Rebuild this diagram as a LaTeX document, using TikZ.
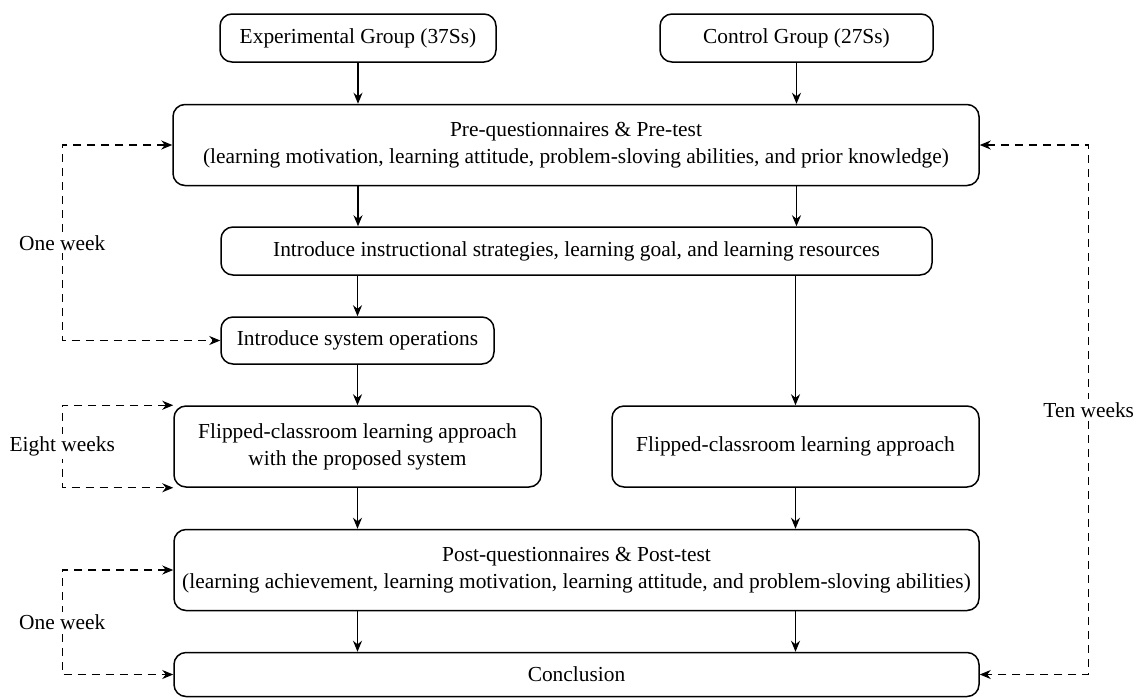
\documentclass[tikz,border=0pt]{standalone}
\usepackage{fontspec}
\setmainfont{Liberation Serif}
\usetikzlibrary{arrows.meta}

\begin{document}
\begin{tikzpicture}[x=0.5pt,y=-0.5pt,>={Stealth[length=5.5pt,width=4.5pt]},box/.style={draw, line width=0.75pt, rounded corners=6pt, align=center, inner sep=0pt, font=\fontsize{10.7}{13.5}\selectfont},flow/.style={->, line width=0.6pt},week/.style={<->, line width=0.55pt, dash pattern=on 4pt off 3pt},gap/.style={fill=white, inner sep=1.5pt, font=\fontsize{10.7}{13.5}\selectfont}]
\useasboundingbox (0,0) rectangle (1134,697);
\node[box, minimum width=138pt, minimum height=24pt] (expgrp) at (358,38) {Experimental Group (37Ss)};
\node[box, minimum width=136.5pt, minimum height=24pt] (ctrlgrp) at (796.5,38) {Control Group (27Ss)};
\node[box, minimum width=403pt, minimum height=40.5pt] (pretest) at (576,145) {Pre-questionnaires \& Pre-test\\(learning motivation, learning attitude, problem-sloving abilities, and prior knowledge)};
\node[box, minimum width=355.5pt, minimum height=24pt] (intro) at (576.5,251) {Introduce instructional strategies, learning goal, and learning resources};
\node[box, minimum width=136.5pt, minimum height=23.5pt] (sysop) at (357.5,340.5) {Introduce system operations};
\node[box, minimum width=183.5pt, minimum height=40.5pt] (flipexp) at (357.5,446.5) {Flipped-classroom learning approach\\with the proposed system};
\node[box, minimum width=183.5pt, minimum height=40.5pt] (flipctrl) at (795.5,446.5) {Flipped-classroom learning approach};
\node[box, minimum width=402.5pt, minimum height=40.5pt] (posttest) at (576.5,570) {Post-questionnaires \& Post-test\\(learning achievement, learning motivation, learning attitude, and problem-sloving abilities)};
\node[box, minimum width=402.5pt, minimum height=22pt] (concl) at (576.5,674.5) {Conclusion};
\draw[flow] (expgrp) -- (expgrp |- pretest.north); \draw[flow] (ctrlgrp) -- (ctrlgrp |- pretest.north);
\draw[flow] (pretest.south -| expgrp) -- (intro.north -| expgrp); \draw[flow] (pretest.south -| ctrlgrp) -- (intro.north -| ctrlgrp);
\draw[flow] (intro.south -| sysop) -- (sysop); \draw[flow] (intro.south -| flipctrl) -- (flipctrl);
\draw[flow] (sysop) -- (flipexp);
\draw[flow] (flipexp) -- (flipexp |- posttest.north); \draw[flow] (flipctrl) -- (flipctrl |- posttest.north);
\draw[flow] (posttest.south -| flipexp) -- (concl.north -| flipexp); \draw[flow] (posttest.south -| flipctrl) -- (concl.north -| flipctrl);
\draw[week] (pretest.west) -- ++(-110,0) |- node[pos=0.25,gap] {One week} (sysop.west);
\draw[week] (flipexp.north west) -- ++(-111,0) |- node[pos=0.25,gap] {Eight weeks} (flipexp.south west);
\draw[week] (posttest.west) -- ++(-111,0) |- node[pos=0.25,gap] {One week} (concl.west);
\draw[week] (pretest.east) -- ++(109,0) |- node[pos=0.25,gap] {Ten weeks} (concl.east);
\end{tikzpicture}
\end{document}
